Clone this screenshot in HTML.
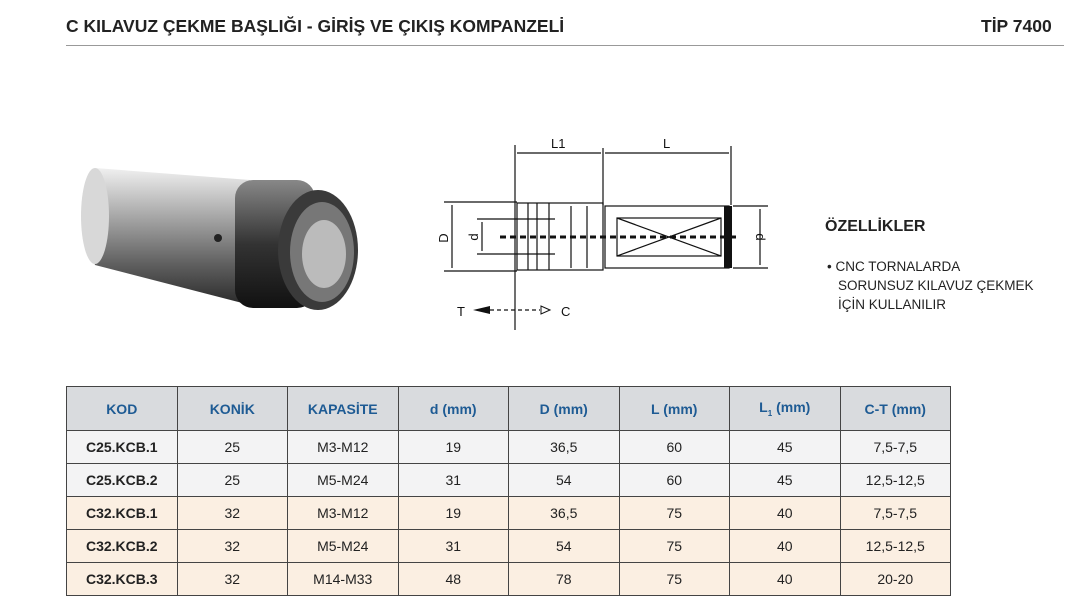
<!DOCTYPE html>
<html><head><meta charset="utf-8"><style>
body{margin:0;width:1074px;height:607px;background:#fff;position:relative;overflow:hidden;font-family:"Liberation Sans",sans-serif;}
.t{position:absolute;font-weight:bold;font-size:17.5px;color:#222;}
table{position:absolute;left:66px;top:386px;border-collapse:collapse;table-layout:fixed;width:885px;font-size:14px;color:#222;}
td{height:32px;text-align:center;border:1px solid #444;padding:0;}
tr.h td{height:43px;background:#d9dbde;color:#1e5b94;font-weight:bold;}
tr.a td{background:#f3f3f4}
tr.b td{background:#fbefe2}
td.k{font-weight:bold}
</style></head><body>
<div class="t" style="left:66px;top:16px">C KILAVUZ ÇEKME BAŞLIĞI - GİRİŞ VE ÇIKIŞ KOMPANZELİ</div>
<div class="t" style="left:981px;top:16px">TİP 7400</div>
<div style="position:absolute;left:66px;top:45px;width:998px;height:1px;background:#999"></div>

<svg style="position:absolute;left:0;top:0" width="1074" height="380">
<defs>
<linearGradient id="g" x1="0" y1="0" x2="0" y2="1"><stop offset="0" stop-color="#f0f0f0"/><stop offset=".35" stop-color="#a8a8a8"/><stop offset=".7" stop-color="#606060"/><stop offset="1" stop-color="#2a2a2a"/></linearGradient>
<linearGradient id="n" x1="0" y1="0" x2="0" y2="1"><stop offset="0" stop-color="#888"/><stop offset=".5" stop-color="#333"/><stop offset="1" stop-color="#111"/></linearGradient>
</defs>
<path d="M95 168 L250 180 L250 305 L95 265 Q78 215 95 168Z" fill="url(#g)"/>
<ellipse cx="95" cy="216" rx="14" ry="48" fill="#d8d8d8"/>
<rect x="235" y="180" width="80" height="128" rx="18" fill="url(#n)"/>
<ellipse cx="318" cy="250" rx="40" ry="60" fill="#3a3a3a"/>
<ellipse cx="322" cy="252" rx="32" ry="50" fill="#777"/>
<ellipse cx="324" cy="254" rx="22" ry="34" fill="#bbb"/>
<circle cx="218" cy="238" r="4" fill="#222"/>
<g stroke="#111" fill="none" stroke-width="1.2">
<line x1="515" y1="145" x2="515" y2="330"/><line x1="603" y1="148" x2="603" y2="205"/><line x1="731" y1="146" x2="731" y2="205"/>
<line x1="517" y1="153" x2="601" y2="153"/><line x1="605" y1="153" x2="729" y2="153"/>
<line x1="444" y1="202" x2="517" y2="202"/><line x1="444" y1="271" x2="517" y2="271"/><line x1="452" y1="205" x2="452" y2="268"/>
<line x1="477" y1="219" x2="555" y2="219"/><line x1="477" y1="254" x2="555" y2="254"/><line x1="482" y1="222" x2="482" y2="251"/>
<rect x="517" y="203" width="86" height="67"/>
<line x1="528" y1="203" x2="528" y2="270"/><line x1="537" y1="203" x2="537" y2="270"/><line x1="549" y1="203" x2="549" y2="270"/><line x1="571" y1="206" x2="571" y2="268"/><line x1="587" y1="206" x2="587" y2="268"/>
<rect x="605" y="206" width="124" height="62"/>
<rect x="617" y="218" width="104" height="38"/>
<line x1="617" y1="218" x2="721" y2="256"/><line x1="617" y1="256" x2="721" y2="218"/>
<line x1="733" y1="206" x2="768" y2="206"/><line x1="733" y1="268" x2="768" y2="268"/><line x1="760" y1="209" x2="760" y2="265"/>
<line x1="500" y1="237" x2="740" y2="237" stroke-width="3" stroke-dasharray="6 4"/>
<line x1="490" y1="310" x2="540" y2="310" stroke-dasharray="4 3"/>
</g>
<rect x="724" y="206" width="8" height="62" fill="#111"/>
<polygon points="473,310 490,306 490,314" fill="#111"/>
<polygon points="550,310 541,306 541,314" fill="none" stroke="#111"/>
<g font-size="13" fill="#111">
<text x="551" y="148">L1</text><text x="663" y="148">L</text>
<text x="457" y="316">T</text><text x="561" y="316">C</text>
<text transform="translate(448,238) rotate(-90)" text-anchor="middle">D</text>
<text transform="translate(478,237) rotate(-90)" text-anchor="middle">d</text>
<text transform="translate(756,237) rotate(90)" text-anchor="middle">d</text>
</g>
<text x="825" y="231" font-size="16" font-weight="bold" fill="#222">ÖZELLİKLER</text>
<g font-size="13.5" fill="#222"><text x="827" y="271">• CNC TORNALARDA</text><text x="838" y="290">SORUNSUZ KILAVUZ ÇEKMEK</text><text x="838" y="309">İÇİN KULLANILIR</text></g>
</svg>

<table>
<tr class="h"><td>KOD</td><td>KONİK</td><td>KAPASİTE</td><td>d (mm)</td><td>D (mm)</td><td>L (mm)</td><td>L<sub style="font-size:8px">1</sub> (mm)</td><td>C-T (mm)</td></tr>
<tr class="a"><td class="k">C25.KCB.1</td><td>25</td><td>M3-M12</td><td>19</td><td>36,5</td><td>60</td><td>45</td><td>7,5-7,5</td></tr>
<tr class="a"><td class="k">C25.KCB.2</td><td>25</td><td>M5-M24</td><td>31</td><td>54</td><td>60</td><td>45</td><td>12,5-12,5</td></tr>
<tr class="b"><td class="k">C32.KCB.1</td><td>32</td><td>M3-M12</td><td>19</td><td>36,5</td><td>75</td><td>40</td><td>7,5-7,5</td></tr>
<tr class="b"><td class="k">C32.KCB.2</td><td>32</td><td>M5-M24</td><td>31</td><td>54</td><td>75</td><td>40</td><td>12,5-12,5</td></tr>
<tr class="b"><td class="k">C32.KCB.3</td><td>32</td><td>M14-M33</td><td>48</td><td>78</td><td>75</td><td>40</td><td>20-20</td></tr>
</table>
</body></html>
